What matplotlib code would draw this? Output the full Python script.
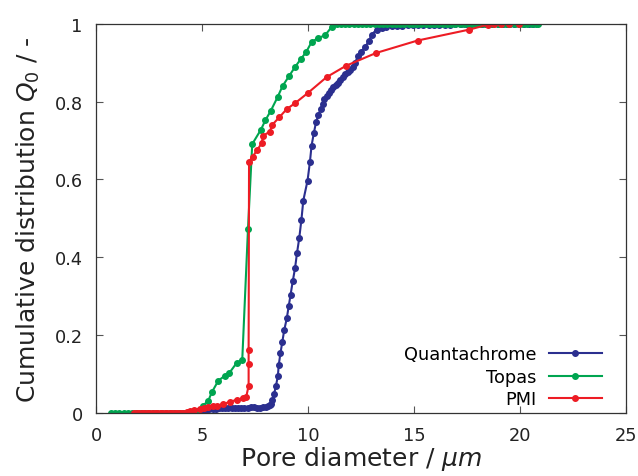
import matplotlib.pyplot as plt
from matplotlib.ticker import FuncFormatter

# Quantachrome
quanta_d = [4.45, 4.6, 4.75, 4.9, 5.05, 5.2, 5.35, 5.5, 5.65, 5.8, 5.95, 6.1, 6.25, 6.4,
            6.55, 6.7, 6.85, 7.0, 7.15, 7.3, 7.45, 7.6, 7.75, 7.9, 8.0, 8.1, 8.2, 8.25,
            8.32, 8.40, 8.49, 8.58, 8.62, 8.70, 8.79, 8.88, 9.0, 9.09, 9.18, 9.28, 9.39,
            9.48, 9.59, 9.69, 9.78, 9.98, 10.09, 10.17, 10.28, 10.38, 10.49, 10.6, 10.69,
            10.78, 10.88, 10.98, 11.08, 11.2, 11.3, 11.4, 11.51, 11.64, 11.76, 11.87,
            11.98, 12.11, 12.22, 12.37, 12.48, 12.69, 12.89, 13.0, 13.24, 13.48, 13.7,
            13.95, 14.2, 14.45, 14.7, 14.95, 15.2, 15.45, 15.7, 15.95, 16.2, 16.45, 16.7,
            16.95, 17.2, 17.45, 17.7, 17.95, 18.2, 18.45, 18.7, 18.95, 19.2, 19.45, 19.7,
            19.95, 20.2, 20.45, 20.6]
quanta_q = [0.003, 0.005, 0.006, 0.007, 0.008, 0.009, 0.010, 0.011, 0.011, 0.012, 0.012,
            0.013, 0.013, 0.013, 0.014, 0.014, 0.014, 0.014, 0.014, 0.015, 0.015, 0.014,
            0.014, 0.015, 0.015, 0.017, 0.020, 0.023, 0.034, 0.049, 0.070, 0.095, 0.123,
            0.153, 0.183, 0.213, 0.243, 0.274, 0.304, 0.338, 0.372, 0.41, 0.45, 0.496,
            0.546, 0.597, 0.644, 0.687, 0.72, 0.747, 0.766, 0.781, 0.794, 0.806, 0.815,
            0.822, 0.83, 0.837, 0.843, 0.849, 0.856, 0.863, 0.87, 0.876, 0.882, 0.889,
            0.9, 0.918, 0.927, 0.94, 0.957, 0.972, 0.985, 0.99, 0.993, 0.994, 0.995,
            0.995, 0.996, 0.996, 0.997, 0.997, 0.997, 0.998, 0.998, 0.998, 0.998, 0.999,
            0.999, 0.999, 0.999, 0.999, 0.999, 1.0, 1.0, 1.0, 1.0, 1.0, 1.0, 1.0, 1.0,
            1.0, 1.0]

# Topas
topas_d = [0.7, 0.9, 1.1, 1.3, 1.5, 1.7, 1.9, 2.1, 2.3, 2.5, 2.7, 2.9, 3.1, 3.3, 3.5,
           3.7, 3.9, 4.1, 4.3, 4.5, 4.75, 5.05, 5.3, 5.46, 5.77, 6.08, 6.29, 6.64, 6.9,
           7.17, 7.37, 7.78, 7.99, 8.25, 8.57, 8.8, 9.1, 9.39, 9.67, 9.91, 10.17, 10.49,
           10.8, 11.12, 11.35, 11.55, 11.75, 11.95, 12.15, 12.35, 12.55, 12.75, 12.95,
           13.15, 13.35, 13.55, 13.75, 13.95, 14.15, 14.35, 14.55, 14.75, 14.95, 15.15,
           15.35, 15.55, 15.75, 15.95, 16.15, 16.35, 16.55, 16.75, 16.95, 17.15, 17.35,
           17.55, 17.75, 17.95, 18.15, 18.35, 18.55, 18.75, 18.95, 19.15, 19.35, 19.55,
           19.75, 19.95, 20.15, 20.35, 20.55, 20.75, 20.86]
topas_q = [0.0, 0.0, 0.0, 0.0, 0.0, 0.0, 0.0, 0.0, 0.0, 0.0, 0.0, 0.0, 0.0, 0.0, 0.0,
           0.0, 0.0, 0.0, 0.0, 0.0, 0.0, 0.019, 0.032, 0.053, 0.083, 0.096, 0.103, 0.129,
           0.137, 0.473, 0.691, 0.728, 0.752, 0.777, 0.812, 0.84, 0.865, 0.889, 0.91,
           0.927, 0.953, 0.964, 0.97, 0.992, 1.0, 1.0, 1.0, 1.0, 1.0, 1.0, 1.0, 1.0, 1.0,
           1.0, 1.0, 1.0, 1.0, 1.0, 1.0, 1.0, 1.0, 1.0, 1.0, 1.0, 1.0, 1.0, 1.0, 1.0, 1.0,
           1.0, 1.0, 1.0, 1.0, 1.0, 1.0, 1.0, 1.0, 1.0, 1.0, 1.0, 1.0, 1.0, 1.0, 1.0, 1.0,
           1.0, 1.0, 1.0, 1.0, 1.0, 1.0, 1.0, 1.0]

# PMI
pmi_d = [1.8, 1.92, 2.04, 2.16, 2.28, 2.4, 2.52, 2.64, 2.76, 2.88, 3.0, 3.12, 3.24, 3.36,
         3.48, 3.6, 3.72, 3.84, 3.96, 4.08, 4.2, 4.3, 4.43, 4.6, 4.9, 5.1, 5.3, 5.5, 5.69,
         6.0, 6.32, 6.64, 6.92, 7.08, 7.2, 7.2, 7.2, 7.22, 7.39, 7.61, 7.81, 7.89, 8.21,
         8.29, 8.65, 9.0, 9.39, 9.99, 10.88, 11.79, 13.21, 15.17, 17.6, 18.5, 18.8,
         19.13, 19.5, 19.97]
pmi_q = [0.0, 0.0, 0.0, 0.0, 0.0, 0.0, 0.0, 0.0, 0.0, 0.0, 0.0, 0.0, 0.0, 0.0, 0.0, 0.0,
         0.0, 0.0, 0.001, 0.001, 0.001, 0.002, 0.006, 0.008, 0.01, 0.013, 0.015, 0.017,
         0.019, 0.023, 0.029, 0.034, 0.038, 0.04, 0.07, 0.126, 0.163, 0.646, 0.659,
         0.676, 0.693, 0.713, 0.723, 0.739, 0.76, 0.781, 0.796, 0.822, 0.863, 0.892,
         0.925, 0.957, 0.985, 0.998, 0.999, 1.0, 1.0, 1.0]

series = {
    "Quantachrome": (quanta_d, quanta_q, "#2b2f8f"),
    "Topas": (topas_d, topas_q, "#00a550"),
    "PMI": (pmi_d, pmi_q, "#ed1c24"),
}

fig = plt.figure(figsize=(6.38, 4.77), dpi=100)
ax = fig.add_axes([0.1505, 0.132, 0.8305, 0.816])

for label, (d, q, c) in series.items():
    ax.plot(d, q, color=c, marker="o", markersize=4, linewidth=1.5, label=label)

ax.set_xlim(0, 25)
ax.set_ylim(0, 1)
ax.set_xticks([0, 5, 10, 15, 20, 25])
ax.set_yticks([0, 0.2, 0.4, 0.6, 0.8, 1])
ax.yaxis.set_major_formatter(FuncFormatter(lambda v, p: "%g" % v))
ax.tick_params(direction="in", top=True, right=True, length=5, width=0.8,
               color="#555555", labelsize=12.8, pad=9.5, labelcolor="#222222")
for s in ax.spines.values():
    s.set_color("#333333")
    s.set_linewidth(0.9)

ax.set_xlabel("Pore diameter / $\\mu m$", fontsize=18, color="#222222", labelpad=0)
ax.set_ylabel("Cumulative distribution $Q_0$ / -", fontsize=18, color="#222222", labelpad=9)

ax.legend(loc="lower right", bbox_to_anchor=(0.955, 0.012), frameon=False,
          markerfirst=False, fontsize=12.8, handlelength=3.0, handletextpad=0.67,
          numpoints=1, labelspacing=0.25, borderpad=0, borderaxespad=0)

fig.savefig("out.png", dpi=100)
